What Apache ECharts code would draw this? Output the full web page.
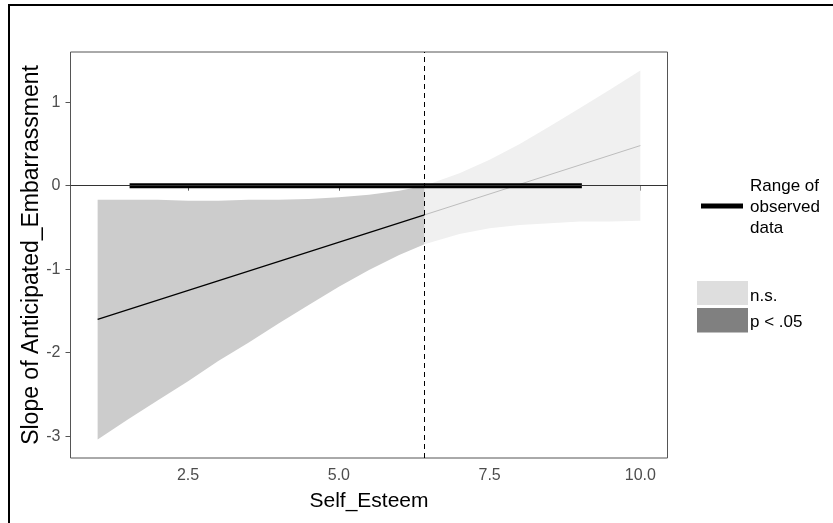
<!DOCTYPE html>
<html>
<head>
<meta charset="utf-8">
<script src="https://cdn.jsdelivr.net/npm/echarts@6/dist/echarts.min.js"></script>
<style>
html,body{margin:0;padding:0;background:#fff;}
#c{width:833px;height:523px;}
</style>
</head>
<body>
<div id="c"></div>
<script>
// ---- data ----
const sigX     = [1, 1.5, 2, 2.5, 3, 3.5, 4, 4.5, 5, 5.5, 6, 6.42];
const sigUpper = [-0.17, -0.17, -0.17, -0.18, -0.18, -0.17, -0.17, -0.16, -0.14, -0.11, -0.06, 0.00];
const sigLower = [-3.04, -2.80, -2.57, -2.34, -2.10, -1.88, -1.65, -1.43, -1.21, -1.01, -0.83, -0.70];
const nsX      = [6.42, 7, 7.5, 8, 8.5, 9, 9.5, 10];
const nsUpper  = [0.00, 0.15, 0.31, 0.50, 0.71, 0.93, 1.15, 1.38];
const nsLower  = [-0.70, -0.58, -0.51, -0.47, -0.45, -0.43, -0.43, -0.42];
const sigLineX = [1, 6.42];
const sigLineY = [-1.60, -0.35];
const nsLineX  = [6.42, 10];
const nsLineY  = [-0.35, 0.48];
const rangeX   = [1.53, 9.03];
const jnPoint  = 6.42;
const xTicks = [2.5, 5, 7.5, 10];
const xTickLabels = ['2.5', '5.0', '7.5', '10.0'];
const yTicks = [-3, -2, -1, 0, 1];
const yTickLabels = ['-3', '-2', '-1', '0', '1'];
const xLimits = [0.55, 10.45];
const yLimits = [-3.26, 1.60];
const xTitle = 'Self_Esteem';
const yTitle = 'Slope of Anticipated_Embarrassment';
const legendLineLabel = 'Range of\nobserved\ndata';
const legendFillLabels = ['n.s.', 'p < .05'];

// ---- chart ----
const FONT = '"Liberation Sans", Arial, sans-serif';
const chart = echarts.init(document.getElementById('c'), null, {renderer: 'canvas'});

function bandRenderer(X, U, L, color) {
  return function (params, api) {
    const pts = [];
    for (let i = 0; i < X.length; i++) pts.push(api.coord([X[i], U[i]]));
    for (let i = X.length - 1; i >= 0; i--) pts.push(api.coord([X[i], L[i]]));
    return {type: 'polygon', shape: {points: pts}, style: {fill: color}};
  };
}
const zip = (a, b) => a.map((v, i) => [v, b[i]]);

const option = {
  animation: false,
  backgroundColor: '#fff',
  grid: {left: 70.5, right: 165.5, top: 52, bottom: 65, show: true, borderColor: '#555', borderWidth: 1, backgroundColor: 'transparent'},
  xAxis: {
    type: 'value', min: xLimits[0], max: xLimits[1],
    name: xTitle, nameLocation: 'middle', nameGap: 33, nameMoveOverlap: false,
    nameTextStyle: {fontFamily: FONT, fontSize: 21, color: '#000'},
    axisLine: {show: false}, splitLine: {show: false},
    axisTick: {show: true, customValues: xTicks, length: 5, lineStyle: {color: '#555'}},
    axisLabel: {customValues: xTicks, margin: 10, fontFamily: FONT, fontSize: 16, color: '#4d4d4d',
      formatter: v => xTickLabels[xTicks.indexOf(v)]}
  },
  yAxis: {
    type: 'value', min: yLimits[0], max: yLimits[1],
    name: yTitle, nameLocation: 'middle', nameGap: 27, nameRotate: 90, nameMoveOverlap: false,
    nameTextStyle: {fontFamily: FONT, fontSize: 23, color: '#000'},
    axisLine: {show: false}, splitLine: {show: false},
    axisTick: {show: true, customValues: yTicks, length: 5, lineStyle: {color: '#555'}},
    axisLabel: {customValues: yTicks, margin: 10, fontFamily: FONT, fontSize: 16, color: '#4d4d4d',
      formatter: v => yTickLabels[yTicks.indexOf(v)]}
  },
  series: [
    {
      type: 'custom', name: 'n.s.', z: 1, silent: true,
      renderItem: bandRenderer(nsX, nsUpper, nsLower, '#f0f0f0'),
      data: [[nsX[0], nsUpper[0]]]
    },
    {
      type: 'custom', name: 'p < .05', z: 1, silent: true,
      renderItem: bandRenderer(sigX, sigUpper, sigLower, '#cccccc'),
      data: [[sigX[0], sigUpper[0]]]
    },
    {
      type: 'line', name: 'ns slope', z: 2, symbol: 'none', silent: true,
      lineStyle: {color: '#bdbdbd', width: 1},
      data: zip(nsLineX, nsLineY)
    },
    {
      type: 'line', name: 'sig slope', z: 2, symbol: 'none', silent: true,
      lineStyle: {color: '#000', width: 1.2},
      data: zip(sigLineX, sigLineY),
      markLine: {
        silent: true, symbol: ['none', 'none'], label: {show: false},
        data: [
          {yAxis: 0, lineStyle: {color: '#333', width: 1, type: 'solid'}}
        ]
      }
    },
    {
      type: 'line', name: 'Range of observed data', z: 4, symbol: 'none', silent: true,
      lineStyle: {color: '#000', width: 5, cap: 'butt'},
      data: [[rangeX[0], 0], [rangeX[1], 0]],
      markLine: {
        silent: true, symbol: ['none', 'none'], label: {show: false}, z: 6,
        data: [
          {xAxis: jnPoint, lineStyle: {color: '#000', width: 1, type: [5, 4]}}
        ]
      }
    }
  ],
  graphic: [
    {type: 'rect', silent: true, z: 100, shape: {x: 9, y: 5, width: 900, height: 600},
      style: {fill: 'none', stroke: '#000', lineWidth: 2}},
    {type: 'line', silent: true, shape: {x1: 701, y1: 206, x2: 743, y2: 206},
      style: {stroke: '#000', lineWidth: 5}},
    {type: 'text', silent: true, x: 750, y: 175.5,
      style: {text: legendLineLabel, font: '17px ' + FONT, fill: '#000', lineHeight: 21, textVerticalAlign: 'top'}},
    {type: 'rect', silent: true, shape: {x: 697, y: 281, width: 51, height: 24}, style: {fill: '#dedede'}},
    {type: 'rect', silent: true, shape: {x: 697, y: 308, width: 51, height: 24.5}, style: {fill: '#808080'}},
    {type: 'text', silent: true, x: 750, y: 296,
      style: {text: legendFillLabels[0], font: '17px ' + FONT, fill: '#000', textVerticalAlign: 'middle'}},
    {type: 'text', silent: true, x: 750, y: 322,
      style: {text: legendFillLabels[1], font: '17px ' + FONT, fill: '#000', textVerticalAlign: 'middle'}}
  ]
};
chart.setOption(option);
</script>
</body>
</html>
